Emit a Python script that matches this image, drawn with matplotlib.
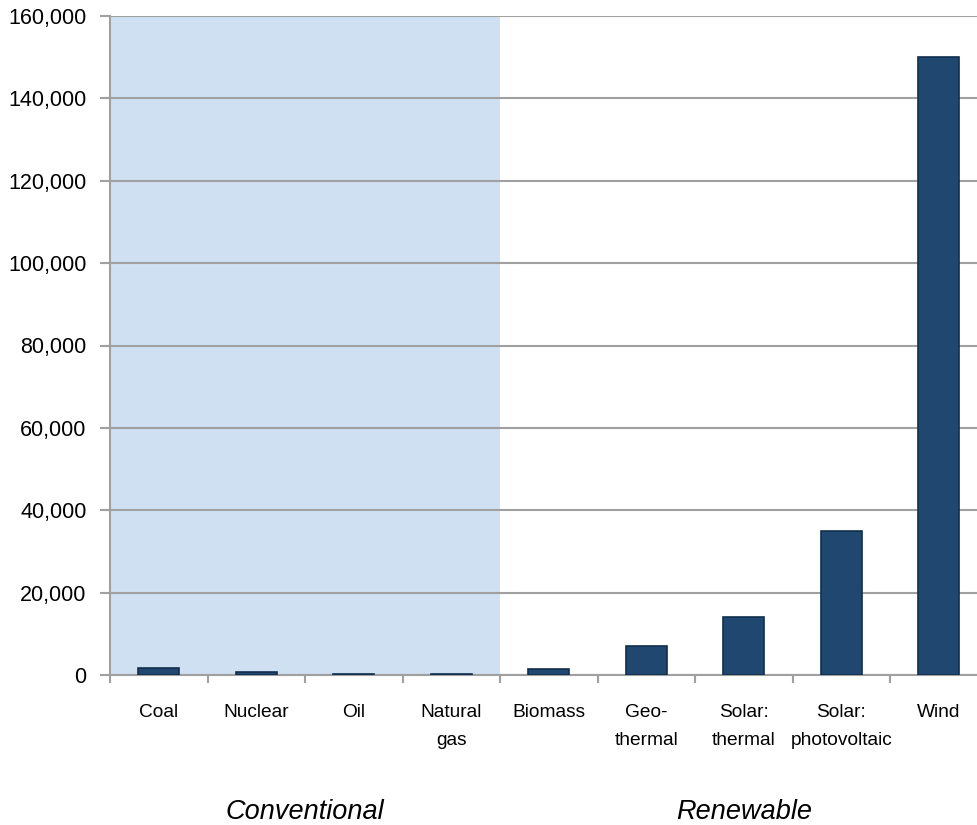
import numpy as np
import matplotlib.pyplot as plt
from matplotlib.ticker import FuncFormatter

plt.rcParams['font.family'] = ['Liberation Sans', 'DejaVu Sans']

# 数据
categories = ['Coal', 'Nuclear', 'Oil', 'Natural\ngas', 'Biomass', 'Geo-\nthermal',
              'Solar:\nthermal', 'Solar:\nphotovoltaic', 'Wind']
values = [1800, 800, 250, 250, 1500, 7000, 14000, 35000, 150000]
groups = ['Conventional', 'Renewable']
group_sizes = [4, 5]

fig = plt.figure(figsize=(9.77, 8.25), dpi=100)
# 坐标区向右超出画布一点，与原图一致
ax = fig.add_axes([110 / 977, 1 - 675 / 825, 877.5 / 977, (675 - 16) / 825])

x = np.arange(len(categories))
ax.axvspan(-0.5, group_sizes[0] - 0.5, color='#cfe0f2', zorder=0, lw=0)
ax.bar(x, values, width=0.42, color='#1f4770', edgecolor='#12304e', linewidth=1.2, zorder=3)

ax.set_xlim(-0.5, len(categories) - 0.5)
ax.set_ylim(0, 160000)
ax.set_yticks(np.arange(0, 160001, 20000))
ax.yaxis.set_major_formatter(FuncFormatter(lambda v, p: f'{int(v):,}'))
ax.grid(axis='y', color='#a0a0a0', linewidth=1.5, zorder=1)

# x轴标签和刻度线
ax.set_xticks(x)
ax.set_xticklabels(categories, fontsize=13.8, linespacing=1.8, va='top')
ax.set_xticks(np.arange(-0.5, len(categories), 1), minor=True)
ax.tick_params(axis='x', which='major', length=0, pad=21)
ax.tick_params(axis='x', which='minor', length=6, width=1.5, color='#a0a0a0')
ax.tick_params(axis='y', length=7, width=1.5, color='#a0a0a0', labelsize=15.5, pad=10)

for s in ['top', 'right']:
    ax.spines[s].set_visible(False)
ax.spines['left'].set_color('#a0a0a0')
ax.spines['left'].set_linewidth(1.5)
ax.spines['bottom'].set_color('#a0a0a0')
ax.spines['bottom'].set_linewidth(1.5)

# 分组标签
start = 0
for g, n in zip(groups, group_sizes):
    cx = start + n / 2 - 0.5
    ax.text(cx, -0.208, g, transform=ax.get_xaxis_transform(), ha='center', va='center',
            fontsize=19.5, style='italic')
    start += n

fig.savefig('out.png', dpi=100)
